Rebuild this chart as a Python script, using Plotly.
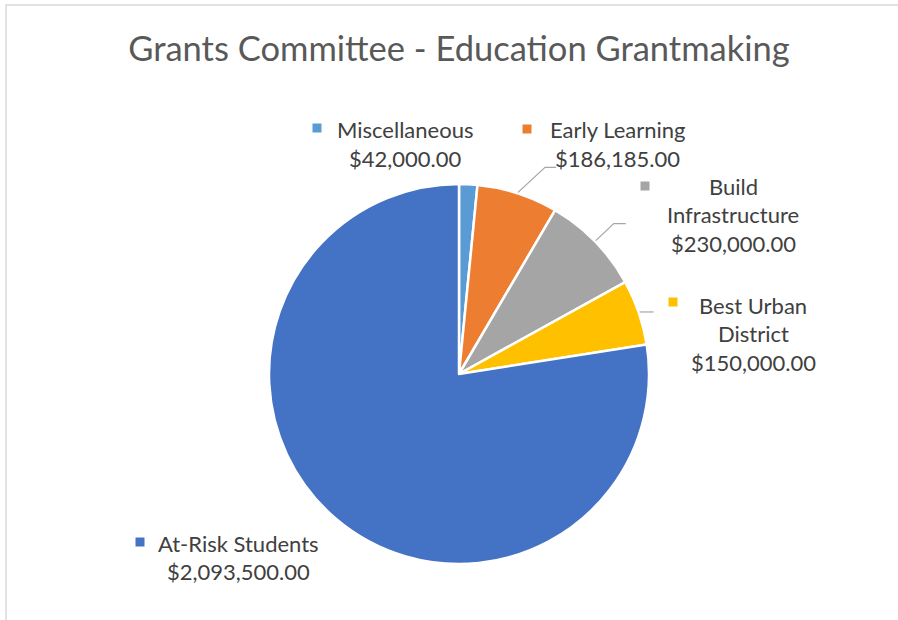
import math
import plotly.graph_objects as go

# ---- data ----
categories = ["Miscellaneous", "Early Learning", "Build Infrastructure", "Best Urban District", "At-Risk Students"]
values = [42000.00, 186185.00, 230000.00, 150000.00, 2093500.00]
colors = ["#5B9BD5", "#ED7D31", "#A5A5A5", "#FFC000", "#4472C4"]
label_lines = [["Miscellaneous"], ["Early Learning"], ["Build", "Infrastructure"], ["Best Urban", "District"], ["At-Risk Students"]]

W, H = 898, 620
CX, CY, R = 459, 374, 190
FONT = "Lato, Carlito, Calibri, sans-serif"


def px(x):
    return x / W


def py(y):
    return 1 - y / H


fig = go.Figure()
fig.add_trace(go.Pie(
    labels=categories, values=values, sort=False, direction="clockwise", rotation=0,
    marker=dict(colors=colors, line=dict(color="white", width=2.5)),
    textinfo="none", hoverinfo="label+value+percent", showlegend=False,
    domain=dict(x=[px(CX - R), px(CX + R)], y=[py(CY + R), py(CY - R)]),
))

# label layout (pixel positions of text centre and legend square)
label_pos = [
    dict(x=405, y=129.5, mx=317, my=128),
    dict(x=617, y=129.5, mx=527, my=129),
    dict(x=733, y=186, mx=645, my=186),
    dict(x=753, y=305, mx=673, my=302),
    dict(x=238, y=543, mx=140, my=542),
]
LINE = 28.8
# leader-line offsets (elbow dx,dy and horizontal run) per slice; None = no leader
leaders = [None, (27, -25, 11), (18, -17, 12), (8, 0, 6), None]

annotations = []
shapes = []
total = sum(values)
cum = 0.0
for i, (cat, val) in enumerate(zip(categories, values)):
    mid = (cum + val / 2) / total * 2 * math.pi
    cum += val
    pos = label_pos[i]
    lines = label_lines[i] + ["${:,.2f}".format(val)]
    for k, t in enumerate(lines):
        annotations.append(dict(
            x=px(pos["x"]), y=py(pos["y"] + k * LINE), xref="paper", yref="paper",
            text=t, showarrow=False, xanchor="center", yanchor="middle",
            font=dict(family=FONT, size=22, color="#404040"),
        ))
    shapes.append(dict(
        type="rect", xref="paper", yref="paper", xsizemode="pixel", ysizemode="pixel",
        xanchor=px(pos["mx"]), yanchor=py(pos["my"]), x0=-4.5, x1=4.5, y0=-4.5, y1=4.5,
        fillcolor=colors[i], line=dict(width=0),
    ))
    if leaders[i] is not None:
        ex = CX + (R + 1) * math.sin(mid)
        ey = CY - (R + 1) * math.cos(mid)
        dx, dy, run = leaders[i]
        bx, by = ex + dx, ey + dy
        fx = bx + run
        path = "M {} {} L {} {} L {} {}".format(px(ex), py(ey), px(bx), py(by), px(fx), py(by))
        shapes.append(dict(type="path", xref="paper", yref="paper", path=path,
                           line=dict(color="#A6A6A6", width=1.2)))

# chart-area border
shapes.append(dict(type="rect", xref="paper", yref="paper", x0=px(6), x1=1.2, y0=-0.2, y1=py(5),
                   line=dict(color="#D9D9D9", width=1.5), fillcolor="rgba(0,0,0,0)", layer="below"))

fig.update_layout(
    width=W, height=H, margin=dict(l=0, r=0, t=0, b=0),
    paper_bgcolor="white", plot_bgcolor="white",
    title=dict(text="Grants Committee - Education Grantmaking", x=px(459), xanchor="center",
               y=py(49), yanchor="middle", yref="container",
               font=dict(family=FONT, size=34.5, color="#595959")),
    annotations=annotations, shapes=shapes,
)

fig.write_html("out.html", config={"displayModeBar": False},
               post_script="document.body.style.margin='0';document.body.style.overflow='hidden';")
